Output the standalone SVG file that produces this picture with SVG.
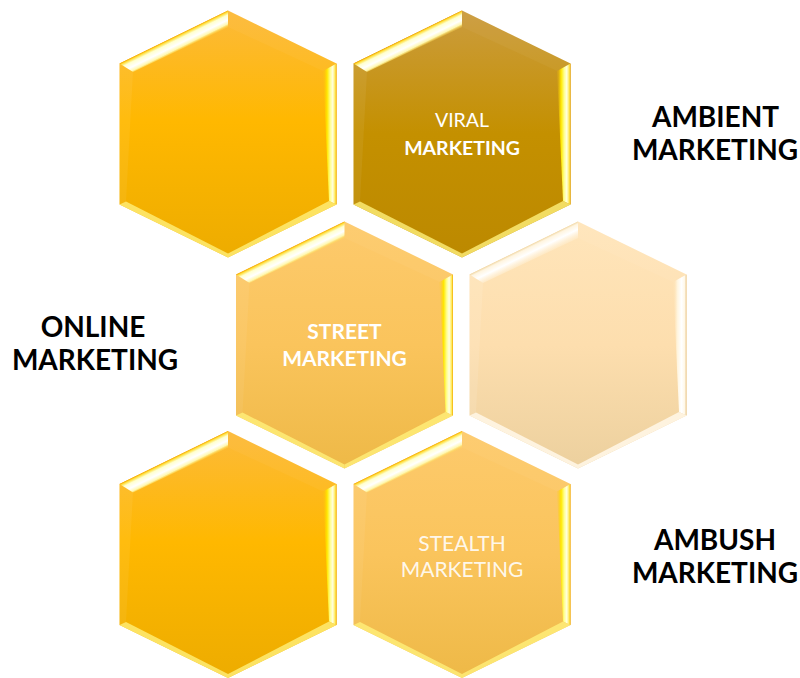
<svg xmlns="http://www.w3.org/2000/svg" xmlns:xlink="http://www.w3.org/1999/xlink" width="800" height="678" viewBox="0 0 800 678">
<style>
.lbl{font-family:Lato,"Open Sans","Liberation Sans",sans-serif;font-weight:700;font-size:28px;fill:#000;text-anchor:middle}
.in{font-family:Lato,"Open Sans","Liberation Sans",sans-serif;fill:#fff;text-anchor:middle}
.b{font-weight:700}
.r{font-weight:400}
</style>
<defs>
<polygon id="hexShape" points="0,-123.5 108.5,-70.5 108.5,70.5 0,123.5 -108.5,70.5 -108.5,-70.5"/>
<linearGradient id="gOr" x1="0" y1="0" x2="0" y2="1">
<stop offset="0" stop-color="#FCBA3A"/><stop offset="0.45" stop-color="#FFB800"/><stop offset="1" stop-color="#EDAC00"/>
</linearGradient>
<linearGradient id="gGold" x1="0" y1="0" x2="0" y2="1">
<stop offset="0" stop-color="#CB9C3E"/><stop offset="0.5" stop-color="#C49000"/><stop offset="1" stop-color="#BC8900"/>
</linearGradient>
<linearGradient id="gLt" x1="0" y1="0" x2="0" y2="1">
<stop offset="0" stop-color="#FDCA6C"/><stop offset="0.5" stop-color="#FAC45C"/><stop offset="1" stop-color="#EEB947"/>
</linearGradient>
<linearGradient id="gPale" x1="0" y1="0" x2="0" y2="1">
<stop offset="0" stop-color="#FFE5BA"/><stop offset="0.5" stop-color="#FDDEAE"/><stop offset="1" stop-color="#ECD09E"/>
</linearGradient>
<linearGradient id="tlY" gradientUnits="userSpaceOnUse" x1="-54.25" y1="-97" x2="-48" y2="-84.25">
<stop offset="0" stop-color="#F5A800"/><stop offset="0.1" stop-color="#FFE040"/><stop offset="0.28" stop-color="#FFFFD0"/><stop offset="0.6" stop-color="#FFFFFF"/><stop offset="0.85" stop-color="#FFF8B0"/><stop offset="1" stop-color="#FFE060" stop-opacity="0.4"/>
</linearGradient>
<linearGradient id="rY" gradientUnits="userSpaceOnUse" x1="108.5" y1="0" x2="96" y2="0">
<stop offset="0" stop-color="#F0A800"/><stop offset="0.1" stop-color="#FFE850"/><stop offset="0.3" stop-color="#FFFFE0"/><stop offset="0.5" stop-color="#FFFF90"/><stop offset="0.75" stop-color="#FFE800"/><stop offset="1" stop-color="#FFD000" stop-opacity="0.2"/>
</linearGradient>
<linearGradient id="tlW" gradientUnits="userSpaceOnUse" x1="-54.25" y1="-97" x2="-48" y2="-84.25">
<stop offset="0" stop-color="#F0D8A8"/><stop offset="0.15" stop-color="#FFF5E0"/><stop offset="0.5" stop-color="#FFFFFF"/><stop offset="1" stop-color="#FFF3DC" stop-opacity="0.4"/>
</linearGradient>
<linearGradient id="rW" gradientUnits="userSpaceOnUse" x1="108.5" y1="0" x2="96" y2="0">
<stop offset="0" stop-color="#E8C890"/><stop offset="0.15" stop-color="#FFF8E8"/><stop offset="0.4" stop-color="#FFFFFF"/><stop offset="0.75" stop-color="#FFF4DC"/><stop offset="1" stop-color="#FFE8C0" stop-opacity="0.2"/>
</linearGradient>
<g id="bevY">
<polygon points="-108.5,-70.5 0,-123.5 0,-107 -95,-62" fill="url(#tlY)"/>
<polygon points="0,-123.5 108.5,-70.5 95,-63 0,-107" fill="#FFFFFF" fill-opacity="0.04"/>
<polygon points="108.5,-70.5 108.5,70.5 101,67 95,-63" fill="url(#rY)"/>
<polygon points="108.5,70.5 0,123.5 0,119.5 101,67" fill="#FFF07A" fill-opacity="0.8"/>
<polygon points="0,123.5 -108.5,70.5 -102,67.5 0,119.5" fill="#FFF07A" fill-opacity="0.8"/>
<polygon points="-108.5,70.5 -108.5,-70.5 -95,-62 -102,67.5" fill="#FFFFFF" fill-opacity="0.06"/>
</g>
<g id="bevW">
<polygon points="-108.5,-70.5 0,-123.5 0,-107 -95,-62" fill="url(#tlW)"/>
<polygon points="0,-123.5 108.5,-70.5 95,-63 0,-107" fill="#FFFFFF" fill-opacity="0.05"/>
<polygon points="108.5,-70.5 108.5,70.5 101,67 95,-63" fill="url(#rW)"/>
<polygon points="108.5,70.5 0,123.5 0,119.5 101,67" fill="#FFF6E6" fill-opacity="0.9"/>
<polygon points="0,123.5 -108.5,70.5 -102,67.5 0,119.5" fill="#FFF6E6" fill-opacity="0.9"/>
<polygon points="-108.5,70.5 -108.5,-70.5 -95,-62 -102,67.5" fill="#FFFFFF" fill-opacity="0.1"/>
</g>
</defs>
<rect width="800" height="678" fill="#fff"/>
<g id="connectors"/>
<g id="hex-1" transform="translate(228,134)">
<use xlink:href="#hexShape" fill="url(#gOr)"/>
<use xlink:href="#bevY"/>
</g>
<g id="hex-viral" transform="translate(462,134)">
<use xlink:href="#hexShape" fill="url(#gGold)"/>
<use xlink:href="#bevY"/>
<text class="in r" x="0" y="-7.3" font-size="19.5">VIRAL</text>
<text class="in b" x="0" y="21" font-size="19.5">MARKETING</text>
</g>
<g id="hex-street" transform="translate(344.5,345)">
<use xlink:href="#hexShape" fill="url(#gLt)"/>
<use xlink:href="#bevY"/>
<text class="in b" x="0" y="-5.7" font-size="21">STREET</text>
<text class="in b" x="0" y="20.7" font-size="21">MARKETING</text>
</g>
<g id="hex-4" transform="translate(578,345)">
<use xlink:href="#hexShape" fill="url(#gPale)"/>
<use xlink:href="#bevW"/>
</g>
<g id="hex-5" transform="translate(228,554.5)">
<use xlink:href="#hexShape" fill="url(#gOr)"/>
<use xlink:href="#bevY"/>
</g>
<g id="hex-stealth" transform="translate(462,554.5)">
<use xlink:href="#hexShape" fill="url(#gLt)"/>
<use xlink:href="#bevY"/>
<text class="in r" x="0" y="-3.5" font-size="21" fill-opacity="0.9">STEALTH</text>
<text class="in r" x="0" y="22.2" font-size="21" fill-opacity="0.9">MARKETING</text>
</g>
<g id="label-ambient">
<text class="lbl" x="715.5" y="126.7">AMBIENT</text>
<text class="lbl" x="715" y="160">MARKETING</text>
</g>
<g id="label-online">
<text class="lbl" x="93" y="337">ONLINE</text>
<text class="lbl" x="95" y="370">MARKETING</text>
</g>
<g id="label-ambush">
<text class="lbl" x="715" y="549.7">AMBUSH</text>
<text class="lbl" x="715" y="583">MARKETING</text>
</g>
</svg>
